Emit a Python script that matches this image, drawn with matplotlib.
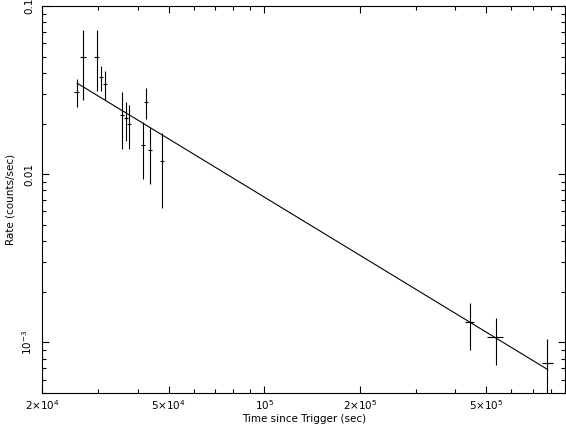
import numpy as np
import matplotlib
matplotlib.use('Agg')
import matplotlib.pyplot as plt
from matplotlib.ticker import FixedLocator, FixedFormatter, LogLocator, NullFormatter

plt.rcParams['font.family'] = 'DejaVu Sans'
plt.rcParams['mathtext.default'] = 'regular'

# light curve points
t = [2.567e4, 2.68e4, 2.966e4, 3.06e4, 3.15e4, 3.56e4, 3.66e4, 3.75e4,
     4.24e4, 4.15e4, 4.37e4, 4.76e4, 4.44e5, 5.35e5, 7.79e5]
t_lo = [420, 560, 480, 450, 480, 540, 560, 580, 650, 620, 670, 650, 1.4e4, 3.4e4, 3.2e4]
t_hi = [430, 560, 480, 450, 490, 550, 560, 600, 650, 630, 680, 660, 1.4e4, 2.9e4, 3.4e4]
rate = [0.0309, 0.0499, 0.0499, 0.0380, 0.0344, 0.0225, 0.0216, 0.0199,
        0.0269, 0.01493, 0.01394, 0.0120, 1.315e-3, 1.071e-3, 7.57e-4]
rate_top = [0.0368, 0.0719, 0.0719, 0.0439, 0.0410, 0.0308, 0.0269, 0.0258,
            0.0325, 0.0204, 0.0191, 0.0176, 1.72e-3, 1.402e-3, 1.052e-3]
rate_bot = [0.0251, 0.0276, 0.0312, 0.0312, 0.0276, 0.01413, 0.01576, 0.01413,
            0.0213, 0.00938, 0.00876, 0.0063, 9.05e-4, 7.37e-4, 4.5e-4]

# power-law model drawn over the data
fit_t = [2.578e4, 7.8e5]
fit_norm = 0.0347
fit_index = 1.149

xticks = [2e4, 5e4, 1e5, 2e5, 5e5]
xlabels = [r'2$\times$10$^{4}$', r'5$\times$10$^{4}$', r'10$^{5}$',
           r'2$\times$10$^{5}$', r'5$\times$10$^{5}$']
yticks = [1e-3, 0.01, 0.1]
ylabels = [r'10$^{-3}$', '0.01', '0.1']

t = np.array(t)
rate = np.array(rate)
xerr = [t_lo, t_hi]
yerr = [rate - np.array(rate_bot), np.array(rate_top) - rate]

fig = plt.figure(figsize=(5.66, 4.28), dpi=100)
ax = fig.add_axes([42.3/566, 1 - 393/428, (565 - 42.3)/566, (393 - 6)/428])

ax.errorbar(t, rate, xerr=xerr, yerr=yerr, fmt='none', ecolor='black',
            elinewidth=0.8, capsize=0)
ft = np.array(fit_t)
ax.plot(ft, fit_norm * (ft / fit_t[0]) ** (-fit_index), color='black', lw=0.8)

ax.set_xscale('log')
ax.set_yscale('log')
ax.set_xlim(2e4, 8.85e5)
ax.set_ylim(5e-4, 0.1)

ax.xaxis.set_major_locator(FixedLocator(xticks))
ax.xaxis.set_major_formatter(FixedFormatter(xlabels))
ax.xaxis.set_minor_locator(LogLocator(base=10, subs=np.arange(2, 10)))
ax.xaxis.set_minor_formatter(NullFormatter())
ax.yaxis.set_major_locator(FixedLocator(yticks))
ax.yaxis.set_major_formatter(FixedFormatter(ylabels))
ax.yaxis.set_minor_locator(LogLocator(base=10, subs=np.arange(2, 10)))
ax.yaxis.set_minor_formatter(NullFormatter())

ax.tick_params(which='both', direction='in', top=True, right=True,
               labelsize=7.5, width=0.8)
ax.tick_params(which='major', length=5)
ax.tick_params(which='minor', length=3)
ax.tick_params(axis='y', labelrotation=90, pad=6)
for lab in ax.get_yticklabels():
    lab.set_va('center')
ax.tick_params(axis='x', pad=4)
for s in ax.spines.values():
    s.set_linewidth(0.8)

ax.set_xlabel('Time since Trigger (sec)', fontsize=7.5, labelpad=1)
ax.set_ylabel('Rate (counts/sec)', fontsize=7.5, labelpad=3)

fig.savefig('out.png', dpi=100)
